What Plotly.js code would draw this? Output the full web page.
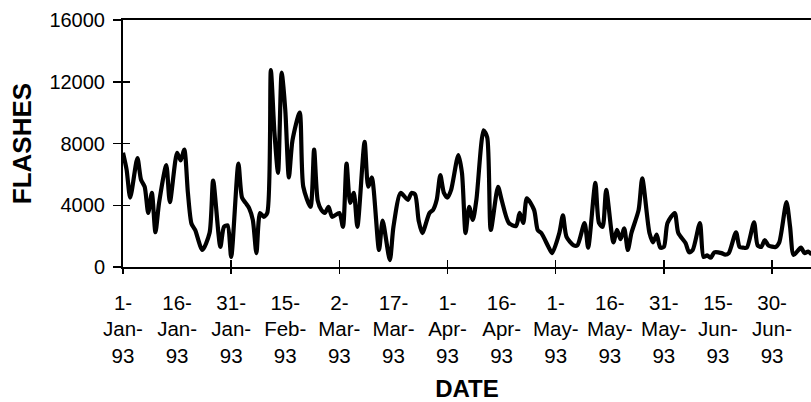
<!DOCTYPE html>
<html>
<head>
<meta charset="utf-8">
<script src="https://cdn.plot.ly/plotly-3.0.1.min.js"></script>
<style>html,body{margin:0;padding:0;background:#fff;}#chart{width:811px;height:402px;}</style>
</head>
<body>
<div id="chart"></div>
<script>
// Day offsets from 1-Jan-1993 and daily lightning flash counts
const dayOffsets = [0,1,2,4,5,6,7,8,9,10,12,13,15,16,17,18,19,20,22,24,25,27,28,29,30,32,33,34,35,36,37,38,39,40,41,42,43,44,45,46,47,49,50,52,53,54,55,56,57,58,60,61,62,63,64,65,67,68,69,71,72,74,75,77,79,80,81,82,83,85,86,87,88,89,90,91,93,94,95,96,97,98,100,101,102,104,105,107,109,110,111,112,114,115,116,118,119,121,122,123,125,126,128,129,131,132,133,134,136,137,138,139,140,141,143,144,146,147,148,149,150,151,153,154,156,157,158,160,161,162,163,164,166,167,168,170,171,172,173,175,176,177,178,179,181,182,184,185,186,188,189,190,191];
const flashes = [7400,6300,4500,7050,5650,5200,3500,4800,2250,4150,6600,4200,7400,6900,7600,4800,2800,2400,1100,2200,5600,1300,2600,2700,650,6700,4500,4150,3800,3050,900,3500,3250,3500,12750,8700,6100,12600,10200,5800,8200,10000,5200,3900,7600,4300,3700,3500,3900,3250,3500,2600,6700,4150,4800,2600,8100,5200,5800,1100,3000,450,2600,4800,4350,4800,4700,3000,2200,3500,3700,4350,5950,4800,4500,5000,7250,6100,2200,3900,3050,4350,8850,8400,2400,5200,4350,2850,2650,3500,2850,4450,3700,2400,2200,1300,900,2200,3350,1950,1400,1400,2850,1250,5450,2850,2600,5000,1600,2400,1800,2500,1100,2200,3700,5750,2200,1600,2100,1250,1300,2850,3500,2200,1550,950,1100,2850,650,750,600,950,900,800,900,2250,1300,1250,1250,2900,1400,1300,1750,1400,1300,1600,4200,2600,780,1250,900,1000,800];
const labelOffsets = [0,15,30,45,60,75,90,105,120,135,150,165,180];
const tickLabels = ['1-<br>Jan-<br>93','16-<br>Jan-<br>93','31-<br>Jan-<br>93','15-<br>Feb-<br>93','2-<br>Mar-<br>93','17-<br>Mar-<br>93','1-<br>Apr-<br>93','16-<br>Apr-<br>93','1-<br>May-<br>93','16-<br>May-<br>93','31-<br>May-<br>93','15-<br>Jun-<br>93','30-<br>Jun-<br>93'];
const majorTickOffsets = [0,30,60,90,120,150,180];
const yTicks = [0,4000,8000,12000,16000];
const yTickLabels = ['0','4000','8000','12000','16000'];

const DAY = 86400000;
const base = Date.UTC(1993,0,1);
const toDate = d => new Date(base + d*DAY).toISOString().slice(0,19).replace('T',' ');
const dates = dayOffsets.map(toDate);
const xRange = [toDate(0), toDate(190.8)];
const yRange = [0,16000];

const font = 'Liberation Sans, Arial, Helvetica, sans-serif';

const traces = [
  {x: dates, y: flashes, type:'scatter', mode:'lines', line:{color:'#000', width:4.2, shape:'spline', smoothing:0.7}, hoverinfo:'skip', showlegend:false},
  {x:[dates[0]], y:[null], xaxis:'x2', yaxis:'y', mode:'lines', showlegend:false, hoverinfo:'skip'},
  {x:[dates[0]], y:[null], xaxis:'x3', yaxis:'y2', mode:'lines', showlegend:false, hoverinfo:'skip'}
];

const common = {type:'date', range:xRange, showgrid:false, zeroline:false};
const layout = {
  width:811, height:402,
  margin:{l:123, r:0, t:20, b:135},
  paper_bgcolor:'#fff', plot_bgcolor:'#fff',
  font:{family:font, color:'#000'},
  xaxis: Object.assign({}, common, {
    tickvals: labelOffsets.map(toDate), ticktext: tickLabels,
    ticks:'', showline:true, linecolor:'#000', linewidth:2, mirror:true,
    tickfont:{size:20.5, family:font}, ticklabelstandoff:16,
    title:{text:'<b>DATE</b>', font:{size:24, family:font}, standoff:16}
  }),
  xaxis2: Object.assign({}, common, {
    overlaying:'x', anchor:'y', side:'bottom',
    tickvals: majorTickOffsets.map(toDate), ticks:'outside', ticklen:6, tickwidth:1.5, tickcolor:'#000',
    showticklabels:false, showline:false
  }),
  xaxis3: Object.assign({}, common, {
    overlaying:'x', anchor:'y2', side:'bottom',
    tickvals: majorTickOffsets.map(toDate), ticks:'inside', ticklen:7, tickwidth:1.5, tickcolor:'#000',
    showticklabels:false, showline:false
  }),
  yaxis: {
    range:yRange, tickvals:yTicks, ticktext:yTickLabels, ticks:'outside', ticklen:8, tickwidth:1.5, tickcolor:'#000',
    showline:true, linecolor:'#000', linewidth:2, showgrid:false, zeroline:false,
    tickfont:{size:20, family:font}, ticklabelstandoff:4,
    title:{text:'<b>FLASHES</b>', font:{size:26, family:font}, standoff:10}
  },
  yaxis2: {
    range:yRange, overlaying:'y', anchor:'x', side:'left', tickvals:yTicks, ticks:'inside', ticklen:7, tickwidth:1.5, tickcolor:'#000',
    showticklabels:false, showline:false, showgrid:false, zeroline:false
  }
};

Plotly.newPlot('chart', traces, layout, {displayModeBar:false, staticPlot:true});
</script>
</body>
</html>
